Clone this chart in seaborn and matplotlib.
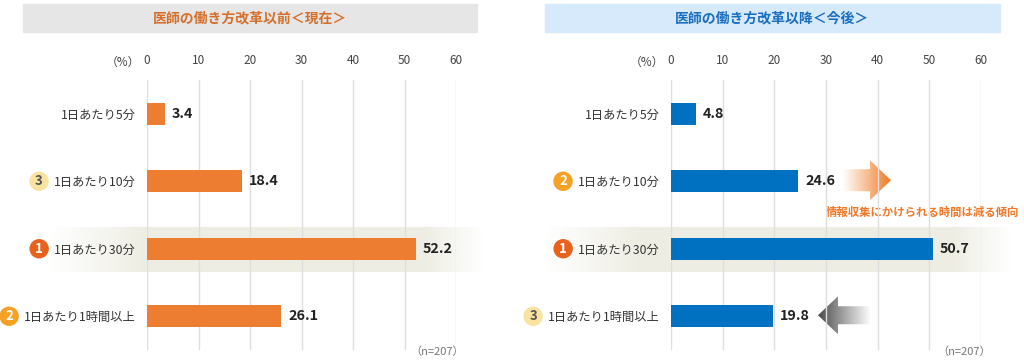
import numpy as np
import matplotlib
matplotlib.use('Agg')
import matplotlib.pyplot as plt
import seaborn as sns
import pandas as pd
from matplotlib.patches import Circle, Polygon, Rectangle

# ---------------- data ----------------
categories = ["1日あたり5分", "1日あたり10分", "1日あたり30分", "1日あたり1時間以上"]
before_values = [3.4, 18.4, 52.2, 26.1]
after_values = [4.8, 24.6, 50.7, 19.8]
before_ranks = [None, 3, 1, 2]
after_ranks = [None, 2, 1, 3]
x_ticks = [0, 10, 20, 30, 40, 50, 60]
titles = ["医師の働き方改革以前＜現在＞", "医師の働き方改革以降＜今後＞"]
unit_label = "（%）"
n_label = "（n=207）"
trend_note = "情報収集にかけられる時間は減る傾向"

sns.set_style('white')
plt.rcParams['font.family'] = ['Noto Sans CJK JP', 'DejaVu Sans']

W, H = 1024, 362
fig = plt.figure(figsize=(W / 100, H / 100), dpi=100)
bg = fig.add_axes([0, 0, 1, 1], zorder=0)
bg.axis('off')


def px_axes(x0, x1, y0, y1):
    return [x0 / W, 1 - y1 / H, (x1 - x0) / W, (y1 - y0) / H]


panels = [
    dict(title=titles[0], vals=before_values, ranks=before_ranks, color='#ed7d31',
         band='#e6e6e6', tcolor='#d4702b', axx=(147, 456), band_x=(23, 477),
         hl=(50, 484), n_x=437),
    dict(title=titles[1], vals=after_values, ranks=after_ranks, color='#0070c0',
         band='#d6eafb', tcolor='#1a6ebf', axx=(671, 981), band_x=(545, 1000),
         hl=(545, 1012), n_x=964),
]
rank_colors = {1: ('#e8621d', 'white'), 2: ('#f5a124', 'white'), 3: ('#f9e3a1', '#555555')}

axes = []
for p in panels:
    x0, x1 = p['axx']
    ax = fig.add_axes(px_axes(x0, x1, 80, 350), zorder=2)
    ax.patch.set_alpha(0)
    df = pd.DataFrame({'cat': categories, 'val': p['vals']})
    sns.barplot(data=df, x='val', y='cat', orient='h', color=p['color'],
                saturation=1, width=0.33, linewidth=0, edgecolor='none', ax=ax)
    ax.set_xlim(0, 60)
    ax.set_ylim(3.5, -0.5)
    ax.set_xticks(x_ticks)
    ax.xaxis.tick_top()
    ax.tick_params(axis='x', length=0, pad=9, labelsize=8.5, labelcolor='#444444')
    ax.tick_params(axis='y', length=0, pad=8, labelsize=8.8, labelcolor='#333333')
    ax.set_xlabel('')
    ax.set_ylabel('')
    ax.grid(axis='x', color='#dedede', lw=1)
    ax.grid(axis='y', visible=False)
    ax.set_axisbelow(True)
    for s in ax.spines.values():
        s.set_visible(False)
    for i, v in enumerate(p['vals']):
        ax.annotate(f"{v:.1f}", (v, i), xytext=(5, 0), textcoords='offset points',
                    va='center', ha='left', fontsize=10.3, fontweight='bold', color='#222222')
    axes.append(ax)

    # title band
    bx0, bx1 = p['band_x']
    bg.add_patch(Rectangle((bx0, 4), bx1 - bx0, 28, color=p['band'], zorder=1))
    bg.text((bx0 + bx1) / 2, 18, p['title'], ha='center', va='center', fontsize=10,
            fontweight='bold', color=p['tcolor'], zorder=2)
    # unit label and n
    bg.text(x0 - 7, 62, unit_label, ha='right', va='center', fontsize=8.5, color='#444444')
    bg.text(p['n_x'], 352, n_label, ha='center', va='center', fontsize=8, color='#777777')

bg.set_xlim(0, W)
bg.set_ylim(H, 0)


def row_px(ax, i):
    return H - ax.transData.transform((0, i))[1]


# highlight band for top-ranked row
for p, ax in zip(panels, axes):
    yc = row_px(ax, 2)
    hx0, hx1 = p['hl']
    n = 400
    xs = np.linspace(hx0, hx1, n)
    alpha = np.clip(np.minimum((xs - hx0) / 95.0, (hx1 - xs) / 60.0), 0, 1)
    rgba = np.zeros((2, n, 4))
    rgba[..., :3] = np.array([0xee, 0xed, 0xe3]) / 255.0
    rgba[..., 3] = alpha
    bg.imshow(rgba, extent=(hx0, hx1, yc + 23, yc - 22), aspect='auto',
              interpolation='bilinear', zorder=0.5)


def gradient_arrow(pts, x0, x1, color, a_left, a_right):
    n = 300
    rgba = np.zeros((2, n, 4))
    rgba[..., :3] = np.array(matplotlib.colors.to_rgb(color))
    rgba[..., 3] = np.linspace(a_left, a_right, n)
    ys = [pt[1] for pt in pts]
    im = bg.imshow(rgba, extent=(x0, x1, max(ys) + 1, min(ys) - 1), aspect='auto',
                   interpolation='bilinear', zorder=3)
    poly = Polygon(pts, closed=True, transform=bg.transData, fc='none', ec='none')
    im.set_clip_path(poly)


# orange arrow (right pointing) next to row 1 of right panel
yo = row_px(axes[1], 1) - 1
gradient_arrow([(843, yo - 11), (870, yo - 11), (870, yo - 20), (891, yo),
                (870, yo + 20), (870, yo + 11), (843, yo + 11)],
               843, 891, '#f07a24', 0.0, 1.0)
# gray arrow (left pointing) next to row 3 of right panel
yg = row_px(axes[1], 3) - 1
gradient_arrow([(818, yg), (838, yg - 19), (838, yg - 9), (871, yg - 9),
                (871, yg + 9), (838, yg + 9), (838, yg + 19)],
               818, 871, '#4a4a4a', 1.0, 0.0)
bg.text(922, 212, trend_note, ha='center', va='center', fontsize=8.2,
        fontweight='bold', color='#f07828', zorder=3)

bg.set_xlim(0, W)
bg.set_ylim(H, 0)

# rank circles placed left of the category labels
fig.canvas.draw()
renderer = fig.canvas.get_renderer()
for p, ax in zip(panels, axes):
    for i, (lab, rank) in enumerate(zip(ax.get_yticklabels(), p['ranks'])):
        if rank is None:
            continue
        bb = lab.get_window_extent(renderer)
        cx = bb.x0 - 15
        cy = row_px(ax, i)
        fc, tc = rank_colors[rank]
        bg.add_patch(Circle((cx, cy), 9, color=fc, zorder=4))
        bg.text(cx, cy, str(rank), ha='center', va='center', fontsize=9.5,
                fontweight='bold', color=tc, zorder=5)

bg.set_xlim(0, W)
bg.set_ylim(H, 0)
fig.savefig('out.png', dpi=100)
